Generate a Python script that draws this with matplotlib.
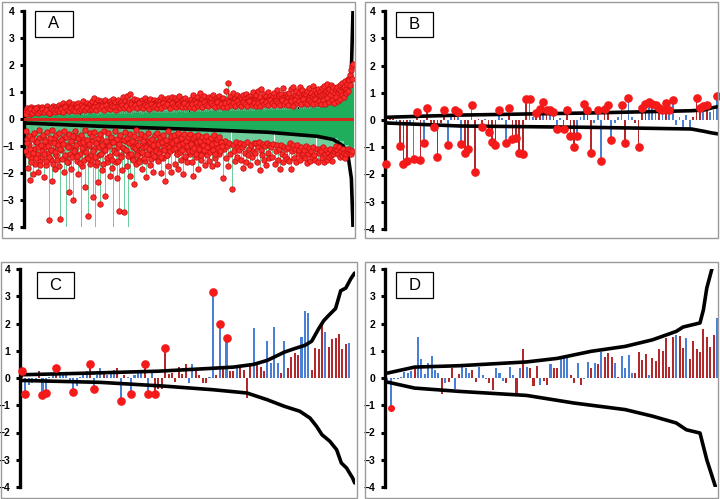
import matplotlib.pyplot as plt
from matplotlib.patches import Rectangle
import numpy as np

plt.rcParams['font.family'] = ['Liberation Sans', 'DejaVu Sans']

BLUE = '#4a7fd6'
RED = '#b3282a'
DOT = '#f51a1a'
GREEN = '#1fae5c'

# ---- panel A: significant values above and below zero (read left to right)
a_pos = [0.22, 0.31, 0.40, 0.27, 0.35, 0.19, 0.44, 0.30, 0.37, 0.25, 0.41, 0.33, 0.28, 0.46, 0.32, 0.38,
         0.26, 0.43, 0.34, 0.29, 0.39, 0.47, 0.31, 0.36, 0.24, 0.42, 0.35, 0.50, 0.30, 0.38, 0.45, 0.33,
         0.36, 0.52, 0.30, 0.45, 0.40, 0.58, 0.33, 0.47, 0.42, 0.55, 0.36, 0.62, 0.41, 0.50, 0.38, 0.57,
         0.39, 0.48, 0.55, 0.34, 0.60, 0.44, 0.51, 0.37, 0.65, 0.46, 0.53, 0.40, 0.58, 0.49, 0.43, 0.56,
         0.45, 0.65, 0.40, 0.78, 0.52, 0.60, 0.43, 0.70, 0.48, 0.56, 0.66, 0.44, 0.59, 0.51, 0.72, 0.47,
         0.50, 0.61, 0.42, 0.67, 0.55, 0.47, 0.74, 0.53, 0.62, 0.45, 0.69, 0.57, 0.49, 0.64, 0.52, 0.80,
         0.55, 0.68, 0.49, 0.85, 0.58, 0.62, 0.92, 0.50, 0.66, 0.57, 0.74, 0.53, 0.61, 0.70, 0.48, 0.64,
         0.52, 0.63, 0.71, 0.47, 0.59, 0.76, 0.54, 0.67, 0.45, 0.62, 0.73, 0.56, 0.50, 0.69, 0.60, 0.58,
         0.58, 0.72, 0.52, 0.66, 0.80, 0.55, 0.63, 0.75, 0.60, 0.69, 0.54, 0.78, 0.62, 0.71, 0.57, 0.82,
         0.56, 0.65, 0.77, 0.51, 0.70, 0.61, 0.84, 0.58, 0.67, 0.53, 0.74, 0.63, 0.79, 0.55, 0.68, 0.60,
         0.60, 0.75, 0.56, 0.88, 0.65, 0.70, 0.58, 0.80, 0.67, 0.62, 0.95, 0.64, 0.73, 0.59, 0.84, 0.68,
         0.63, 0.72, 0.57, 0.81, 0.66, 0.76, 0.61, 0.90, 0.69, 0.59, 0.78, 0.71, 0.64, 0.86, 0.62, 0.74,
         0.66, 0.79, 0.62, 1.05, 0.70, 1.33, 0.64, 0.85, 0.72, 0.68, 0.98, 0.71, 0.76, 0.63, 0.90, 0.74,
         0.65, 0.82, 0.73, 0.60, 0.88, 0.69, 0.77, 0.94, 0.67, 0.80, 0.63, 0.86, 0.75, 0.70, 1.00, 0.72,
         0.70, 0.88, 0.66, 1.02, 0.75, 0.80, 1.12, 0.69, 0.92, 0.77, 0.84, 0.72, 1.00, 0.79, 0.86, 0.74,
         0.73, 0.85, 0.96, 0.70, 0.81, 1.08, 0.76, 0.89, 0.68, 0.94, 0.79, 1.15, 0.83, 0.75, 0.91, 0.87,
         0.78, 0.95, 0.72, 1.10, 0.83, 1.18, 0.76, 0.90, 1.05, 0.80, 0.97, 1.20, 0.85, 1.08, 0.82, 0.94,
         0.80, 0.92, 1.02, 0.76, 1.14, 0.87, 0.98, 0.82, 1.22, 0.90, 1.06, 0.84, 0.95, 1.12, 0.88, 1.00,
         0.88, 1.15, 0.92, 1.22, 0.96, 1.05, 1.30, 1.00, 1.12, 0.90, 1.25, 1.02, 1.18, 0.95, 1.10, 1.20,
         0.98, 1.08, 1.25, 1.02, 1.35, 1.15, 1.20, 1.40, 1.12, 1.30, 1.50, 1.45, 1.62, 1.80, 1.95, 2.05]
a_pos2 = [0.18, 0.29, 0.36, 0.24, 0.33, 0.41, 0.21, 0.30, 0.38, 0.27, 0.34, 0.23, 0.39, 0.32, 0.26, 0.35,
          0.30, 0.38, 0.27, 0.44, 0.33, 0.29, 0.41, 0.35, 0.31, 0.46, 0.28, 0.37, 0.43, 0.32, 0.39, 0.34,
          0.36, 0.44, 0.32, 0.50, 0.39, 0.47, 0.35, 0.53, 0.41, 0.37, 0.49, 0.43, 0.34, 0.46, 0.40, 0.52,
          0.40, 0.49, 0.37, 0.55, 0.44, 0.51, 0.39, 0.58, 0.46, 0.42, 0.53, 0.48, 0.38, 0.56, 0.45, 0.50,
          0.42, 0.52, 0.40, 0.58, 0.47, 0.54, 0.41, 0.61, 0.49, 0.44, 0.56, 0.50, 0.43, 0.59, 0.46, 0.53,
          0.44, 0.55, 0.42, 0.61, 0.50, 0.57, 0.45, 0.64, 0.52, 0.47, 0.59, 0.53, 0.46, 0.62, 0.49, 0.56,
          0.46, 0.58, 0.45, 0.64, 0.53, 0.60, 0.48, 0.67, 0.55, 0.50, 0.62, 0.56, 0.49, 0.65, 0.52, 0.59,
          0.49, 0.61, 0.47, 0.68, 0.56, 0.63, 0.51, 0.71, 0.58, 0.53, 0.66, 0.59, 0.52, 0.69, 0.55, 0.62,
          0.52, 0.65, 0.50, 0.72, 0.59, 0.67, 0.54, 0.75, 0.61, 0.56, 0.70, 0.63, 0.55, 0.73, 0.58, 0.66,
          0.56, 0.70, 0.54, 0.78, 0.64, 0.72, 0.60, 0.82, 0.68, 0.74, 0.88, 0.80, 0.95, 1.05, 1.25, 1.50]
a_neg = [-1.20, -0.75, -1.80, -0.95, -2.25, -1.45, -0.62, -2.05, -1.10, -1.65, -0.85, -1.30, -1.95, -0.70, -1.55, -1.00,
         -1.40, -0.68, -2.15, -1.05, -1.70, -0.90, -1.25, -3.75, -0.80, -1.50, -2.30, -1.15, -0.72, -1.85, -1.35, -0.95,
         -0.85, -1.75, -3.70, -1.15, -0.70, -1.95, -1.40, -4.50, -0.95, -1.60, -2.70, -1.05, -1.85, -0.78, -3.00, -1.25,
         -1.10, -0.65, -1.55, -2.05, -0.88, -1.30, -4.50, -1.75, -0.75, -1.20, -2.50, -0.98, -1.45, -3.60, -1.00, -1.65,
         -1.50, -0.82, -2.90, -1.10, -4.50, -1.70, -0.90, -2.35, -1.35, -3.15, -0.75, -1.90, -1.20, -2.85, -0.98, -1.58,
         -0.92, -1.40, -2.10, -0.70, -1.80, -4.50, -1.15, -0.85, -1.60, -2.20, -1.05, -3.40, -0.78, -1.35, -1.90, -1.08,
         -3.45, -1.15, -0.80, -1.75, -4.50, -1.30, -2.10, -0.88, -1.45, -1.05, -2.40, -0.85, -1.65, -1.20, -1.00, -1.50,
         -1.25, -0.72, -1.85, -1.05, -0.90, -1.55, -2.15, -0.80, -1.35, -1.70, -0.95, -1.15, -1.95, -0.86, -1.40, -1.10,
         -0.95, -1.55, -0.80, -1.20, -2.00, -0.85, -1.45, -1.05, -2.30, -0.90, -1.35, -1.75, -0.82, -1.15, -1.95, -1.00,
         -1.10, -0.78, -1.65, -0.92, -1.30, -1.85, -0.75, -1.20, -1.50, -0.88, -2.05, -1.00, -1.40, -0.83, -1.60, -1.15,
         -1.30, -0.85, -1.60, -2.10, -1.05, -0.78, -1.40, -0.95, -1.85, -1.15, -0.88, -1.50, -1.00, -1.25, -0.80, -1.70,
         -0.98, -1.35, -0.82, -1.55, -1.10, -0.90, -1.75, -1.20, -0.85, -1.45, -1.05, -1.65, -0.92, -1.30, -1.15, -0.87,
         -0.90, -2.20, -1.10, -0.82, -1.45, -1.00, -1.75, -0.88, -1.30, -2.60, -0.95, -1.20, -1.55, -0.85, -1.40, -1.05,
         -1.15, -0.88, -1.50, -1.02, -1.80, -0.92, -1.25, -1.60, -0.86, -1.35, -1.10, -1.70, -0.95, -1.40, -1.20, -0.90,
         -1.25, -0.90, -1.60, -1.05, -0.85, -1.90, -1.15, -1.35, -0.92, -1.50, -1.00, -1.70, -0.88, -1.25, -1.45, -0.95,
         -1.05, -1.40, -0.92, -1.65, -1.18, -0.98, -1.52, -1.10, -1.85, -0.95, -1.30, -1.58, -1.02, -1.38, -1.12, -1.48,
         -1.05, -1.55, -0.90, -1.85, -1.20, -0.98, -1.45, -1.10, -1.60, -0.95, -1.30, -1.15, -1.50, -1.02, -1.35, -1.25,
         -1.15, -1.45, -1.00, -1.62, -1.28, -1.08, -1.55, -1.20, -1.40, -1.05, -1.35, -1.50, -1.12, -1.58, -1.25, -1.10,
         -1.20, -1.45, -1.05, -1.60, -1.30, -1.15, -1.50, -1.25, -1.40, -1.10, -1.35, -1.55, -1.30, -1.20, -1.10, -1.00,
         -1.15, -1.30, -1.05, -1.40, -1.20, -1.35, -1.10, -1.25, -1.45, -1.30, -1.20, -1.10, -1.25, -1.15, -1.30, -1.20]
# extra negative points, dense part in the left 60 %
a_neg2 = [-0.45, -0.90, -1.35, -0.62, -1.10, -1.60, -0.75, -1.25, -0.52, -1.45, -0.85, -1.05, -0.40, -1.70, -0.95, -1.20,
          -0.58, -1.30, -0.80, -1.55, -0.48, -1.00, -1.40, -0.70, -1.15, -0.42, -1.65, -0.88, -1.22, -0.60, -1.50, -0.98,
          -0.50, -1.12, -0.78, -1.48, -0.92, -0.44, -1.33, -0.68, -1.58, -1.02, -0.55, -1.28, -0.82, -1.42, -0.64, -1.18,
          -0.46, -0.96, -1.38, -0.72, -1.62, -0.58, -1.08, -0.86, -1.52, -0.40, -1.24, -0.76, -1.44, -0.94, -0.52, -1.32,
          -0.62, -1.20, -0.47, -1.40, -0.88, -1.58, -0.70, -1.05, -0.54, -1.30, -0.96, -1.68, -0.44, -1.14, -0.80, -1.46,
          -0.52, -1.00, -1.36, -0.66, -1.50, -0.84, -1.18, -0.45, -1.26, -0.74, -1.56, -0.92, -0.58, -1.42, -1.06, -0.78,
          -0.48, -1.15, -0.72, -1.38, -0.90, -0.55, -1.28, -0.82, -1.52, -0.64, -1.08, -0.42, -1.34, -0.96, -1.60, -0.70,
          -0.56, -1.22, -0.80, -1.44, -0.62, -1.04, -1.30, -0.50, -1.12, -0.86, -1.48, -0.74, -0.98, -1.36, -0.60, -1.18,
          -0.50, -0.94, -1.26, -0.68, -1.40, -0.84, -0.58, -1.16, -0.76, -1.32, -0.46, -1.02, -1.20, -0.64, -0.90, -1.10,
          -0.60, -1.08, -0.78, -1.30, -0.52, -0.96, -1.24, -0.70, -1.14, -0.88, -0.56, -1.36, -0.82, -1.00, -0.66, -1.18,
          -0.54, -0.92, -1.20, -0.72, -1.06, -0.62, -1.28, -0.86, -0.58, -1.12, -0.80, -1.34, -0.68, -0.98, -1.16, -0.76,
          -0.64, -1.02, -0.82, -1.22, -0.70, -0.94, -1.14, -0.60, -1.30, -0.88, -0.74, -1.08, -0.66, -1.18, -0.84, -1.00]
a_neg2_span = 0.6
# non-significant values (inside the thresholds), left to right
a_in_pos = [0.10, 0.11, 0.12, 0.11, 0.13, 0.12, 0.14, 0.13, 0.15, 0.14,
            0.16, 0.15, 0.17, 0.16, 0.18, 0.17, 0.19, 0.18, 0.20, 0.19,
            0.21, 0.20, 0.22, 0.21, 0.23, 0.22, 0.24, 0.23, 0.25, 0.24,
            0.26, 0.25, 0.27, 0.26, 0.28, 0.27, 0.29, 0.28, 0.30, 0.29,
            0.31, 0.30, 0.32, 0.31, 0.33, 0.32, 0.34, 0.33, 0.35, 0.36,
            0.37, 0.38, 0.40, 0.42, 0.45, 0.50, 0.58, 0.70, 0.90, 1.20]
a_in_neg = [-0.14, -0.16, -0.15, -0.17, -0.18, -0.17, -0.19, -0.20, -0.19, -0.21,
            -0.22, -0.21, -0.23, -0.24, -0.23, -0.25, -0.26, -0.25, -0.27, -0.28,
            -0.27, -0.29, -0.30, -0.29, -0.31, -0.32, -0.31, -0.33, -0.34, -0.33,
            -0.35, -0.36, -0.35, -0.37, -0.38, -0.37, -0.39, -0.40, -0.39, -0.41,
            -0.42, -0.43, -0.44, -0.45, -0.46, -0.47, -0.48, -0.50, -0.52, -0.54,
            -0.56, -0.58, -0.60, -0.62, -0.65, -0.68, -0.72, -0.80, -0.95, -1.20]
a_up_x = [0, 0.3, 0.6, 0.85, 0.94, 0.97, 0.985, 0.995, 1.0]
a_up_y = [0.12, 0.2, 0.28, 0.38, 0.5, 0.7, 1.0, 1.8, 4.0]
a_lo_x = [0, 0.23, 0.53, 0.74, 0.89, 0.94, 0.97, 0.985, 0.995, 1.0]
a_lo_y = [-0.15, -0.27, -0.39, -0.49, -0.64, -0.76, -1.0, -1.37, -2.2, -4.0]

# ---- panel B
b_vals = [-1.62, 0.05, 0.05, -0.08, -0.95, -1.62, -1.52, -0.10, -1.44, 0.30,
          -1.47, -0.85, 0.45, -0.10, -0.25, -1.35, -0.10, 0.38, -0.92, 0.10,
          0.35, 0.30, -0.88, -1.20, -1.05, 0.55, -1.90, 0.05, -0.27, 0.05,
          -0.45, -0.80, -0.92, 0.35, 0.08, -0.86, 0.45, -0.70, -0.65, -1.22,
          -1.25, 0.77, 0.78, 0.10, 0.25, 0.40, 0.65, 0.38, 0.35, 0.30,
          -0.32, 0.08, -0.32, 0.35, -0.60, -1.00, -0.60, 0.10, 0.60, 0.35,
          -1.20, -0.10, 0.35, -1.50, 0.40, 0.55, -0.75, -0.12, 0.10, 0.55,
          -0.85, 0.80, 0.12, -0.10, -0.98, 0.45, 0.60, 0.65, 0.60, 0.55,
          0.45, 0.35, 0.62, 0.35, 0.75, -0.20, 0.12, -0.25, 0.20, -0.30,
          0.10, 0.80, 0.45, 0.50, 0.55, 0.30, 0.35, 0.88]
b_cols = ("brrbrrrbbr" "rbrrrrrrbb" "rbbrrbrrrb" "rrrbbbrrrr"
          "rrbbrrbrbr" "bbrrrrbbbr" "rbbbrrbbbb" "rbbrrrrbbb"
          "rbrbbbbbbb" "rrrbrbbb")
b_dots = [0, 4, 5, 6, 8, 9, 10, 11, 12, 14, 15, 17, 18, 20, 21, 22, 23, 24, 25, 26,
          28, 30, 31, 32, 33, 35, 36, 37, 38, 39, 40, 41, 42, 44, 45, 46, 47, 48, 49,
          50, 52, 53, 54, 55, 56, 58, 59, 60, 62, 63, 64, 65, 66, 69, 70, 71, 74, 75,
          76, 77, 78, 79, 80, 81, 82, 83, 84, 91, 92, 93, 94, 97]
b_up_x = [0, 21.6, 60.4, 89.5, 93.4, 95.3, 97.3]
b_up_y = [0.1, 0.18, 0.26, 0.34, 0.37, 0.44, 0.49]
b_lo_x = [0, 21.6, 60.4, 89.5, 93.4, 95.3, 97.3]
b_lo_y = [-0.11, -0.22, -0.27, -0.33, -0.42, -0.47, -0.51]

# ---- panel C
c_vals = [0.25, -0.57, -0.25, -0.20, -0.05, 0.25, -0.62, -0.55, 0.05, 0.10,
          0.35, 0.10, 0.10, 0.20, -0.10, -0.52, -0.30, 0.05, 0.15, 0.25,
          0.50, -0.42, 0.10, 0.35, 0.25, 0.10, 0.20, 0.30, 0.38, -0.85,
          0.10, 0.05, -0.57, 0.10, 0.28, 0.30, 0.50, -0.57, 0.25, -0.57,
          -0.40, -0.40, 1.10, 0.15, 0.20, -0.15, 0.40, 0.15, 0.50, -0.20,
          0.50, 0.35, 0.10, -0.20, -0.20, 0.05, 3.15, 0.10, 2.00, 0.35,
          1.45, 0.25, 0.25, 0.35, 0.35, 0.30, -0.75, 0.55, 1.83, 0.50,
          0.40, 0.25, 1.35, 0.55, 1.87, 0.55, 0.20, 1.35, 0.35, 0.77,
          0.92, 0.85, 1.50, 2.47, 2.40, 0.30, 1.10, 1.08, 2.00, 1.68,
          1.12, 1.43, 1.47, 1.62, 1.08, 1.25, 1.27]
c_cols = ("rbbbbrbbbb" "rbbbbbbbbb" "rbbbrbbbrb" "rbbbbbrbbr"
          "rrrrrrrrrb" "brrrrbbrbr" "brrbrrrrbr" "rrbbbbrbrr"
          "rrbbbrrrrb" "rrrrrrb")
c_dots = [0, 1, 6, 7, 10, 15, 20, 21, 29, 32, 36, 37, 39, 42, 56, 58, 60]
c_up_x = [0, 20, 40, 55, 62, 68, 72, 77, 80, 83, 85, 87, 88.5, 90, 92, 93.5, 95, 96.5, 97.6]
c_up_y = [0.12, 0.18, 0.25, 0.35, 0.4, 0.5, 0.65, 0.95, 1.08, 1.2, 1.35, 1.8, 2.1, 2.3, 2.55, 3.2, 3.3, 3.65, 3.85]
c_lo_x = [0, 23, 42, 56, 66, 72, 77, 81.5, 84.5, 86.4, 88, 90.3, 92.3, 93.7, 95.2, 97, 97.6]
c_lo_y = [-0.09, -0.16, -0.3, -0.43, -0.55, -0.8, -1.04, -1.22, -1.47, -1.77, -2.08, -2.32, -2.63, -3.12, -3.3, -3.67, -3.85]

# ---- panel D
d_vals = [-0.10, -1.10, -0.05, -0.05, 0.02, 0.22, 0.20, 0.25, 0.37, 1.50,
          0.68, 0.15, 0.55, 0.82, 0.30, 0.20, -0.60, -0.20, -0.15, 0.35,
          -0.40, 0.15, 0.40, 0.38, 0.20, 0.30, -0.15, 0.40, 0.10, -0.05,
          -0.20, -0.45, 0.38, 0.20, -0.10, -0.20, 0.40, 0.10, -0.65, 0.35,
          1.08, 0.42, 0.35, -0.28, 0.45, -0.25, -0.10, -0.25, 0.50, 0.35,
          0.38, 0.75, 0.75, 0.75, 0.12, -0.20, 0.55, -0.25, -0.05, 0.58,
          0.35, 0.55, 0.50, 0.95, 0.78, 0.92, 0.78, 0.55, 0.02, 0.82,
          0.35, 0.85, 0.20, 0.20, 0.95, 0.65, 0.88, 0.12, 0.75, 0.62,
          1.05, 0.98, 1.45, 0.42, 1.50, 1.58, 1.55, 1.10, 1.45, 0.70,
          1.35, 1.05, 0.95, 1.78, 1.52, 1.12, 1.58, 2.22]
d_cols = ("bbbbbbbbrb" "bbbbbbrbrr" "brbbbrrbbb" "rrbbbrbbrb"
          "rbrrrbrrbr" "rbbbrrbrbb" "rbrbrrrbrb" "bbbrrrrbrr"
          "rrrrrbrrbr" "rrrrrrrb")
d_dots = [1]
d_up_x = [0, 8, 21, 41, 50, 60, 70, 78, 85, 87, 92, 93, 94, 95.5]
d_up_y = [0.18, 0.4, 0.45, 0.59, 0.72, 0.98, 1.16, 1.4, 1.71, 1.87, 2.02, 2.5, 3.3, 4.0]
d_lo_x = [0, 8, 21, 41, 55, 62.5, 70, 78, 85, 88, 92, 94, 96.5]
d_lo_y = [-0.15, -0.37, -0.49, -0.64, -0.92, -1.04, -1.16, -1.4, -1.65, -1.9, -2.02, -3.0, -3.97]

W, H = 720, 499
fig = plt.figure(figsize=(W / 100, H / 100), dpi=100)


def px_axes(x0, y0, x1, y1):
    # pixel box (top-left origin) -> axes
    return fig.add_axes([x0 / W, 1 - y1 / H, (x1 - x0) / W, (y1 - y0) / H])


def px_rect(x0, y0, x1, y1, **kw):
    fig.patches.append(Rectangle((x0 / W, 1 - y1 / H), (x1 - x0) / W, (y1 - y0) / H,
                                 transform=fig.transFigure, figure=fig, **kw))


def style(ax):
    ax.set_ylim(-4, 4)
    ax.set_yticks(range(-4, 5))
    for s in ['top', 'right', 'bottom']:
        ax.spines[s].set_visible(False)
    ax.spines['left'].set_linewidth(2.4)
    ax.tick_params(axis='y', length=3, width=2.2, pad=4, labelsize=7.5)
    for t in ax.get_yticklabels():
        t.set_fontweight('bold')
    ax.set_xticks([])
    ax.patch.set_alpha(0)


def label(x0, y0, x1, y1, s):
    px_rect(x0, y0, x1, y1, facecolor='white', edgecolor='black', lw=0.9, zorder=5)
    fig.text((x0 + x1) / 2 / W, 1 - (y0 + y1) / 2 / H, s, ha='center', va='center',
             fontsize=12, zorder=6)


def bar_panel(ax, vals, cols, dots, upx, upy, lox, loy, width, ms):
    vals = np.array(vals)
    idx = np.arange(len(vals))
    colors = [BLUE if c == 'b' else RED for c in cols]
    ax.bar(idx, vals, width=width, color=colors, zorder=2)
    ax.plot(upx, upy, color='black', lw=2.6, zorder=3, solid_capstyle='round')
    ax.plot(lox, loy, color='black', lw=2.6, zorder=3, solid_capstyle='round')
    ax.plot(idx[dots], vals[dots], 'o', ms=ms, color=DOT, zorder=4, clip_on=False)


# panel borders
px_rect(2, 2, 355, 238, fill=False, edgecolor='#9a9a9a', lw=1)
px_rect(365, 2, 718, 238, fill=False, edgecolor='#9a9a9a', lw=1)
px_rect(1, 262, 357, 498, fill=False, edgecolor='#9a9a9a', lw=1)
px_rect(365, 262, 718, 498, fill=False, edgecolor='#9a9a9a', lw=1)

# A
axA = px_axes(24, 11, 354, 227)
xp = np.linspace(0, 1, len(a_pos))
xp2 = np.linspace(0.003, 0.997, len(a_pos2))
xn = np.linspace(0.002, 0.998, len(a_neg))
xn2 = np.linspace(0.004, a_neg2_span, len(a_neg2))
xin = np.linspace(0, 1, len(a_in_pos))
win = 1.0 / (len(a_in_pos) - 1)

axA.plot(a_up_x, a_up_y, color='black', lw=2.6, zorder=1.5)
for xs, vs in [(xp, a_pos), (xp2, a_pos2), (xn, a_neg), (xn2, a_neg2)]:
    axA.vlines(xs, 0, vs, color='#52c487', lw=0.7, alpha=0.85, zorder=2)
axA.bar(xin, a_in_pos, width=win * 1.3, color=GREEN, lw=0, antialiased=False, zorder=2.2)
axA.bar(xin, a_in_neg, width=win * 1.3, color=GREEN, lw=0, antialiased=False, zorder=2.2)
axA.axhline(0, color='#d42a1e', lw=2.2, zorder=3)
axA.plot(a_lo_x, a_lo_y, color='black', lw=2.6, zorder=3)
for xs, vs in [(xp, a_pos), (xp2, a_pos2), (xn, a_neg), (xn2, a_neg2)]:
    axA.plot(xs, vs, 'o', ms=3.9, mfc='#ff2a2a', mec='#c81010', mew=0.6, zorder=4)
axA.set_xlim(-0.003, 1.003)
style(axA)

# B
axB = px_axes(385, 11, 718, 229)
bar_panel(axB, b_vals, b_cols, b_dots, b_up_x, b_up_y, b_lo_x, b_lo_y, 0.5, 5.2)
axB.set_xlim(-0.4, 97.3)
style(axB)

# C
axC = px_axes(20, 269, 355, 487)
bar_panel(axC, c_vals, c_cols, c_dots, c_up_x, c_up_y, c_lo_x, c_lo_y, 0.6, 5.2)
axC.set_xlim(-0.6, 97.7)
style(axC)

# D
axD = px_axes(385, 269, 718, 487)
bar_panel(axD, d_vals, d_cols, d_dots, d_up_x, d_up_y, d_lo_x, d_lo_y, 0.6, 4.0)
axD.set_xlim(-0.7, 97.3)
style(axD)

label(35, 11, 73, 37, 'A')
label(396, 12, 433, 37, 'B')
label(37, 272, 74, 298, 'C')
label(396, 272, 433, 298, 'D')

fig.savefig('out.png', dpi=100)
